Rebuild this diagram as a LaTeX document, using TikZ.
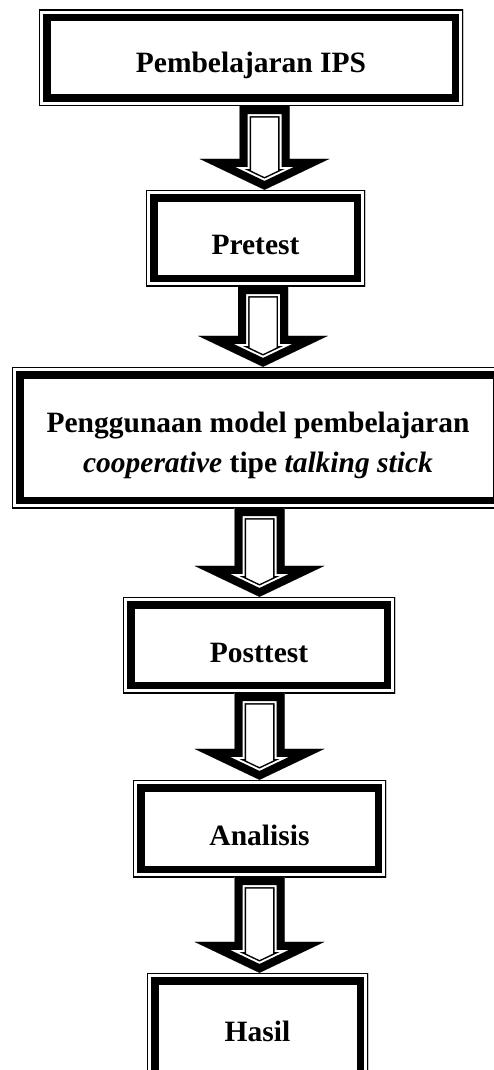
\documentclass[tikz,border=0pt]{standalone}
\usepackage{fontspec}
\setmainfont{Liberation Serif}
\usetikzlibrary{calc}
\tikzset{
  dbox/.style={rectangle, inner sep=0pt,
    font=\fontsize{29.5}{40}\selectfont\bfseries,
    path picture={
      \draw[line width=23pt] (path picture bounding box.south west) rectangle (path picture bounding box.north east);
      \draw[line width=8pt, white] (path picture bounding box.south west) rectangle (path picture bounding box.north east);
      \draw[line width=2.6pt] (path picture bounding box.south west) rectangle (path picture bounding box.north east);
    }},
  arrthick/.style={line width=23pt, black},
  arrgap/.style={line width=20pt, white},
  arrthin/.style={line width=16pt, black}
}
\newcommand\blockarrow[3]{%
  \coordinate (bat) at ([xshift=#3pt]#1.south);
  \coordinate (bab) at (bat |- #2.north);
  \def\arrpath{($(bat)+(-25,0)$) -- ($(bab)+(-25,-31)$) -- ($(bab)+(-65,-31)$) -- (bab) -- ($(bab)+(65,-31)$) -- ($(bab)+(25,-31)$) -- ($(bat)+(25,0)$) -- cycle}%
  \begin{scope}
    \clip \arrpath;
    \fill[white] \arrpath;
    \draw[arrthick] \arrpath;
    \draw[arrgap] \arrpath;
    \draw[arrthin] \arrpath;
  \end{scope}}
\begin{document}
\begin{tikzpicture}[x=1pt,y=-1pt]
\useasboundingbox (0,0) rectangle (494,1070);
\clip (0,0) rectangle (494,1070);
\node[dbox, minimum width=424pt, minimum height=96pt, text height=29pt, text depth=0pt] (b1) at (251,58) {Pembelajaran IPS};
\node[dbox, minimum width=219pt, minimum height=96pt, text height=32pt, text depth=0pt] (b2) at (255.5,238) {Pretest};
\node[dbox, align=center, minimum width=492pt, minimum height=141pt, text height=69pt, text depth=0pt] (b3) at (258,437.5) {Penggunaan model pembelajaran\\\textit{cooperative} tipe \textit{talking stick}};
\node[dbox, minimum width=272pt, minimum height=96pt, text height=34pt, text depth=0pt] (b4) at (259,645) {Posttest};
\node[dbox, minimum width=253pt, minimum height=97pt, text height=34pt, text depth=0pt] (b5) at (259.5,828.5) {Analisis};
\node[dbox, minimum width=221pt, minimum height=115pt, text height=21pt, text depth=0pt] (b6) at (257.5,1030.5) {Hasil};
\blockarrow{b1}{b2}{13.5}
\blockarrow{b2}{b3}{7.5}
\blockarrow{b3}{b4}{1.5}
\blockarrow{b4}{b5}{0.5}
\blockarrow{b5}{b6}{0}
\end{tikzpicture}
\end{document}
